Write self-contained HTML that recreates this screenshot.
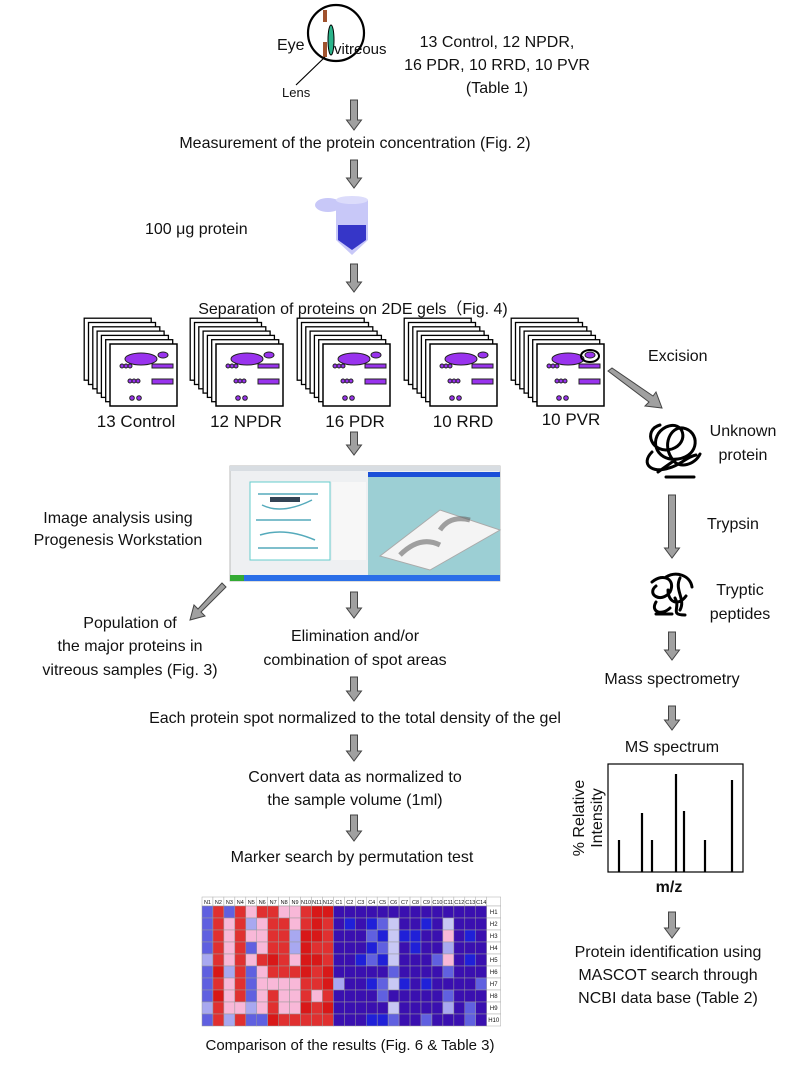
<!DOCTYPE html>
<html><head><meta charset="utf-8"><style>
html,body{margin:0;padding:0;background:#fff;}
svg{display:block;}
text{font-family:"Liberation Sans",Arial,sans-serif;fill:#111;}
</style></head><body>
<svg id="s" width="800" height="1071" viewBox="0 0 800 1071" xmlns="http://www.w3.org/2000/svg">
<defs>
<g id="card">
  <rect x="0" y="0" width="67" height="62" fill="#fff" stroke="#000" stroke-width="1.3"/>
</g>
<g id="front">
  <rect x="0" y="0" width="67" height="62" fill="#fff" stroke="#000" stroke-width="1.5"/>
  <g fill="#9933ee" stroke="#222" stroke-width="1">
  <ellipse cx="31" cy="15" rx="16" ry="6"/>
  <ellipse cx="53" cy="11" rx="5" ry="3"/>
  <circle cx="12" cy="22" r="2"/><circle cx="16" cy="22" r="2"/><circle cx="20" cy="22" r="2"/>
  <rect x="42" y="20" width="21" height="4"/>
  <circle cx="20" cy="37" r="2"/><circle cx="24" cy="37" r="2"/><circle cx="28" cy="37" r="2"/>
  <rect x="42" y="35" width="21" height="5"/>
  <circle cx="22" cy="54" r="2.3"/><circle cx="29" cy="54" r="2.3"/>
  </g>
</g>
</defs>

<!-- Eye -->
<circle cx="336" cy="33" r="28" fill="#fff" stroke="#000" stroke-width="2.2"/>
<path d="M325,10 v12 M325,42 v15" stroke="#a0522d" stroke-width="4" fill="none"/>
<ellipse cx="331" cy="40" rx="3" ry="15" fill="#2bb38a" stroke="#000" stroke-width="1"/>
<line x1="296" y1="85" x2="325" y2="57" stroke="#000" stroke-width="1.2"/>
<text x="277" y="50" font-size="16">Eye</text>
<text x="334" y="54" font-size="15">vitreous</text>
<text x="282" y="97" font-size="13">Lens</text>
<text x="497" y="47" font-size="16" text-anchor="middle">13 Control, 12 NPDR,</text>
<text x="497" y="70" font-size="16" text-anchor="middle">16 PDR, 10 RRD, 10 PVR</text>
<text x="497" y="93" font-size="16" text-anchor="middle">(Table 1)</text>

<g id="arrows" fill="#a0a0a0" stroke="#444" stroke-width="1">
<path d="M222,583 L226,587 L201,612 L205,616 L190,620 L194,605 L198,609 Z"/>
<path d="M608,371 L612,368 L653,396 L656,392 L662,408 L645,406 L649,402 Z"/>
</g>

<text x="355" y="148" font-size="16" text-anchor="middle">Measurement of the protein concentration (Fig. 2)</text>
<text x="145" y="234" font-size="16">100 μg protein</text>
<!-- tube -->
<ellipse cx="328" cy="205" rx="13" ry="7" fill="#c8c8f8"/>
<path d="M336,200 H368 V240 L352,255 L336,240 Z" fill="#c8c8f8"/>
<ellipse cx="352" cy="200" rx="16" ry="4" fill="#dcdcfb"/>
<path d="M338,225 H366 V240 L352,250 L338,240 Z" fill="#3636c8"/>

<text x="353" y="314" font-size="16" text-anchor="middle">Separation of proteins on 2DE gels（Fig. 4)</text>

<g id="stacks"></g>
<text x="136" y="427" font-size="17" text-anchor="middle">13 Control</text>
<text x="246" y="427" font-size="17" text-anchor="middle">12 NPDR</text>
<text x="355" y="427" font-size="17" text-anchor="middle">16 PDR</text>
<text x="463" y="427" font-size="17" text-anchor="middle">10 RRD</text>
<text x="571" y="425" font-size="17" text-anchor="middle">10 PVR</text>
<ellipse cx="590" cy="356" rx="9" ry="6" fill="none" stroke="#000" stroke-width="2"/>
<text x="648" y="361" font-size="16">Excision</text>

<!-- screenshot -->
<g>
<rect x="230" y="466" width="270" height="115" fill="#eef0f2" stroke="#bbb"/>
<rect x="230" y="466" width="270" height="5" fill="#d8dde2"/>
<rect x="368" y="472" width="132" height="5" fill="#1a4fd8"/>
<rect x="368" y="477" width="132" height="98" fill="#9ccfd4"/>
<path d="M380,556 L440,510 L500,530 L430,570 Z" fill="#f4f4f4" stroke="#aaa"/>
<path d="M400,555 q20,-20 40,-10 M440,530 q10,-15 30,-10" stroke="#666" stroke-width="5" fill="none" opacity=".6"/>
<rect x="250" y="482" width="80" height="78" fill="#fff" stroke="#6cc" stroke-width="1"/>
<path d="M258,494 h60 M262,505 q20,10 50,-5 M256,520 h55 M260,535 q25,-8 55,5 M258,548 h60" stroke="#5ab" stroke-width="1.5" fill="none"/>
<rect x="270" y="497" width="30" height="5" fill="#345"/>
<rect x="332" y="482" width="34" height="78" fill="#f7f7f7"/>
<rect x="230" y="575" width="270" height="6" fill="#2a6ee8"/>
<rect x="230" y="575" width="14" height="6" fill="#3a3"/>
</g>

<text x="118" y="523" font-size="16" text-anchor="middle">Image analysis using</text>
<text x="118" y="545" font-size="16" text-anchor="middle">Progenesis Workstation</text>
<text x="130" y="628" font-size="16" text-anchor="middle">Population of</text>
<text x="130" y="651" font-size="16" text-anchor="middle">the major proteins in</text>
<text x="130" y="675" font-size="16" text-anchor="middle">vitreous samples (Fig. 3)</text>
<text x="355" y="641" font-size="16" text-anchor="middle">Elimination and/or</text>
<text x="355" y="665" font-size="16" text-anchor="middle">combination of spot areas</text>
<text x="355" y="723" font-size="16" text-anchor="middle">Each protein spot normalized to the total density of the gel</text>
<text x="355" y="782" font-size="16" text-anchor="middle">Convert data as normalized to</text>
<text x="355" y="805" font-size="16" text-anchor="middle">the sample volume (1ml)</text>
<text x="352" y="862" font-size="16" text-anchor="middle">Marker search by permutation test</text>
<g id="heat"></g>
<text x="350" y="1050" font-size="15" text-anchor="middle">Comparison of the results (Fig. 6 &amp; Table 3)</text>

<!-- right column -->
<g fill="none" stroke="#000" stroke-width="3" stroke-linecap="round">
<path d="M660,425 c-18,5 -8,30 12,24 c18,-6 12,-30 -6,-22 c-18,9 -12,35 12,32 c22,-3 22,-28 5,-31 c-12,-2 -22,17 -10,32 c6,9 22,5 27,-6 M652,452 c-12,12 0,22 17,16 c12,-3 17,-11 27,-13 M658,472 l17,-12 M666,477 h28"/>
<path d="M652,582 c12,-10 24,-2 18,10 c-9,12 -24,2 -14,-6 M666,577 c10,-6 24,-2 26,10 M656,602 c-6,10 6,14 14,6 M668,590 c0,12 10,17 18,6 M656,614 h16 M675,598 c6,10 -6,17 10,17 M680,578 c-6,12 6,21 0,32"/>
</g>
<text x="743" y="436" font-size="16" text-anchor="middle">Unknown</text>
<text x="743" y="460" font-size="16" text-anchor="middle">protein</text>
<text x="707" y="529" font-size="16">Trypsin</text>
<text x="740" y="595" font-size="16" text-anchor="middle">Tryptic</text>
<text x="740" y="619" font-size="16" text-anchor="middle">peptides</text>
<text x="672" y="684" font-size="16" text-anchor="middle">Mass spectrometry</text>
<text x="672" y="752" font-size="16" text-anchor="middle">MS spectrum</text>
<rect x="608" y="764" width="135" height="108" fill="none" stroke="#000" stroke-width="1.2"/>
<g stroke="#000" stroke-width="2.2">
<line x1="619" y1="872" x2="619" y2="840"/><line x1="642" y1="872" x2="642" y2="813"/>
<line x1="652" y1="872" x2="652" y2="840"/><line x1="676" y1="872" x2="676" y2="774"/>
<line x1="684" y1="872" x2="684" y2="811"/><line x1="705" y1="872" x2="705" y2="840"/>
<line x1="732" y1="872" x2="732" y2="780"/>
</g>
<text x="669" y="892" font-size="16" font-weight="bold" text-anchor="middle">m/z</text>
<text transform="translate(584,818) rotate(-90)" font-size="16" text-anchor="middle">% Relative</text>
<text transform="translate(602,818) rotate(-90)" font-size="16" text-anchor="middle">Intensity</text>
<text x="668" y="957" font-size="16" text-anchor="middle">Protein identification using</text>
<text x="668" y="980" font-size="16" text-anchor="middle">MASCOT search through</text>
<text x="668" y="1003" font-size="16" text-anchor="middle">NCBI data base (Table 2)</text>
</svg>
<script>
var NS="http://www.w3.org/2000/svg";
function el(p,t,a){var e=document.createElementNS(NS,t);for(var k in a)e.setAttribute(k,a[k]);p.appendChild(e);return e;}
var ar=document.getElementById("arrows");
[[354,100,130],[354,160,188],[354,264,292],[354,432,455],[354,592,618],[354,677,701],[354,735,761],[354,815,841],
 [672,495,558],[672,632,660],[672,706,730],[672,912,938]].forEach(function(a){
 var x=a[0],y1=a[1],y2=a[2];
 el(ar,"path",{d:"M"+(x-3.5)+","+y1+" H"+(x+3.5)+" V"+(y2-10)+" H"+(x+7.5)+" L"+x+","+y2+" L"+(x-7.5)+","+(y2-10)+" H"+(x-3.5)+" Z"});
});
var st=document.getElementById("stacks");
[110,216,323,430,537].forEach(function(fx){
  for(var i=6;i>=1;i--){el(st,"use",{href:"#card",x:fx-i*4.3,y:344-i*4.3});}
  el(st,"use",{href:"#front",x:fx,y:344});
});
var h=document.getElementById("heat");
var x0=202,y0=897,cw=10.95,hh=9,rh=12;
var cols=[];for(var i=1;i<=12;i++)cols.push("N"+i);for(var i=1;i<=14;i++)cols.push("C"+i);
var rows=[
"bRbRpRRppRrr","bRpRlpRRpRrR","bRpRppRRlrrR","bRpRbpRRlrRR","lRpRpRrRprrR",
"brlRbpRRRrRr","bRpRbppppRRr","brpRbpRppRpR","lRpplpRpprRr","bRlRbbrRRRRR"];
var crows=["DDDDDDDDDDDDDD","DBDBbLDDBDLDDD","DDDbBLBBDDpDBD","DDDBbLDBDDlDDD","DDBbBLDDDbpDBD",
"DDDDDbDDDDbDDD","lDDBbLBDBDDDDb","DDDDbDDDDDbDDD","DDDDDLDDDDlDbD","DDDBBbDDbDDDbD"];
var cmap={R:"#e03030",r:"#d81818",p:"#f8b8d8",l:"#a8a8f0",b:"#6060e0",D:"#3a10b0",B:"#2020d8",L:"#c8c8f4"};
cols.forEach(function(c,j){el(h,"rect",{x:x0+j*cw,y:y0,width:cw,height:hh,fill:"#fff",stroke:"#aaa","stroke-width":0.5});
 var t=el(h,"text",{x:x0+j*cw+cw/2,y:y0+7,"font-size":5.5,"text-anchor":"middle"});t.textContent=c;});
el(h,"rect",{x:x0+26*cw,y:y0,width:14,height:hh,fill:"#fff",stroke:"#aaa","stroke-width":0.5});
for(var r=0;r<10;r++){var s=rows[r]+crows[r];
 for(var j=0;j<26;j++){el(h,"rect",{x:x0+j*cw,y:y0+hh+r*rh,width:cw,height:rh,fill:cmap[s[j]],stroke:"#999","stroke-width":0.5});}
 el(h,"rect",{x:x0+26*cw,y:y0+hh+r*rh,width:14,height:rh,fill:"#fff",stroke:"#aaa","stroke-width":0.5});
 var t=el(h,"text",{x:x0+26*cw+7,y:y0+hh+r*rh+8,"font-size":6,"text-anchor":"middle"});t.textContent="H"+(r+1);}
</script>
</body></html>
